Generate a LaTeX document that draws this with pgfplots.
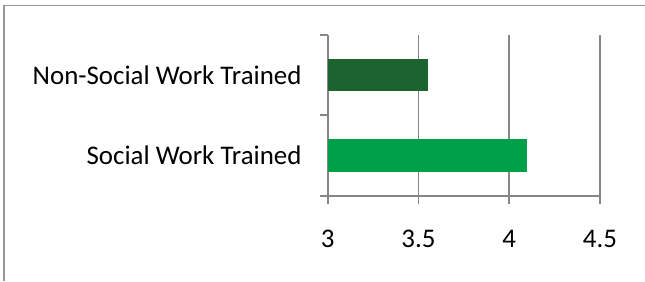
\documentclass[border=0pt]{standalone}
\usepackage{pgfplots}
\pgfplotsset{compat=1.18}
\usepackage{fontspec}
\setmainfont{Carlito}
\definecolor{gridgray}{RGB}{134,134,134}
\definecolor{framegray}{RGB}{150,150,150}
\definecolor{darkgreen}{RGB}{27,100,48}
\definecolor{brightgreen}{RGB}{0,160,72}
\begin{document}
\begin{tikzpicture}[x=1bp,y=1bp]
\begin{axis}[
  at={(327.7bp,85.3bp)}, anchor=south west,
  scale only axis, width=272.3bp, height=160.7bp,
  xbar, bar width=32.5bp,
  xmin=3, xmax=4.5, ymin=-0.5, ymax=1.5,
  xtick={3,3.5,4,4.5},
  ytick={-0.5,0.5,1.5}, yticklabels={},
  extra y ticks={0,1},
  extra y tick labels={Social Work Trained, Non-Social Work Trained},
  extra y tick style={major tick length=0pt, grid=none},
  axis x line*=bottom, axis y line*=left,
  axis line style={gridgray, line width=1.8bp, -},
  xmajorgrids, grid style={gridgray, line width=1.8bp},
  tick style={gridgray, line width=1.8bp},
  major tick length=8bp, tick align=outside,
  tick label style={font=\fontsize{27}{32}\selectfont, text=black},
  /pgf/number format/assume math mode=true,
  yticklabel style={anchor=east, inner sep=0pt, xshift=-26bp},
  xticklabel style={anchor=base, inner sep=0pt, yshift=-43.5bp},
  clip=true,
]
\addplot[fill=brightgreen, draw=none, bar shift=0pt] coordinates {(4.1,0)};
\addplot[fill=darkgreen, draw=none, bar shift=0pt] coordinates {(3.55,1)};
\end{axis}
\draw[framegray, line width=1.8bp] (4,0) -- (4,275.5) -- (645,275.5);
\pgfresetboundingbox
\useasboundingbox (0,0) rectangle (645,281);
\end{tikzpicture}
\end{document}
